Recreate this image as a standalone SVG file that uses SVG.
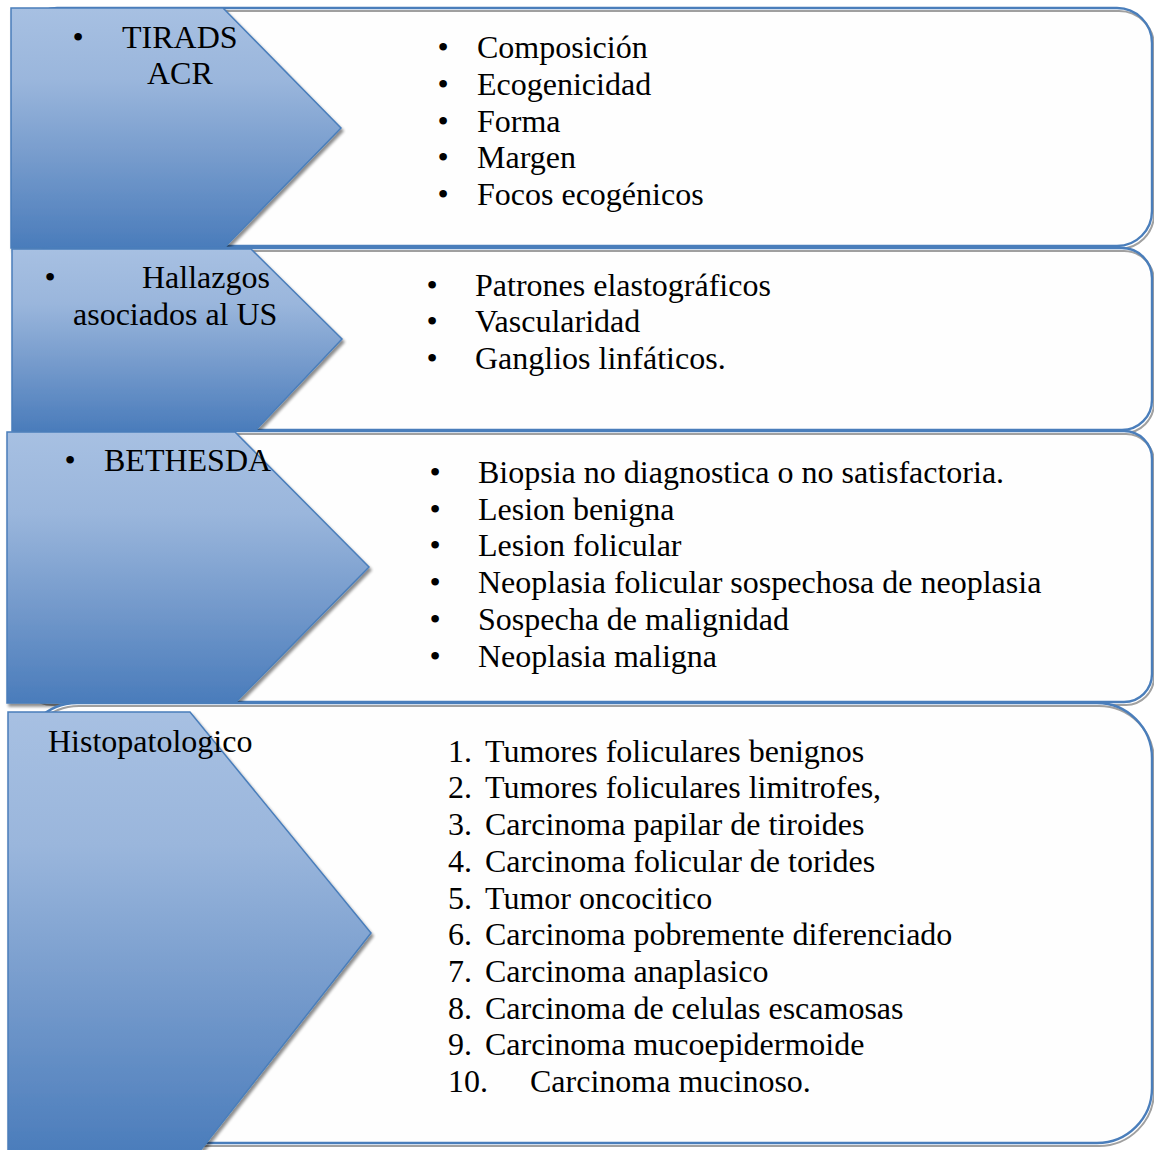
<svg xmlns="http://www.w3.org/2000/svg" width="1154" height="1150" viewBox="0 0 1154 1150">
  <defs>
    <linearGradient id="chevFill" x1="0" y1="0" x2="0" y2="1">
      <stop offset="0" stop-color="#a7c0e2"/>
      <stop offset="0.3" stop-color="#9ab6dc"/>
      <stop offset="0.65" stop-color="#7399cb"/>
      <stop offset="1" stop-color="#4a7cbb"/>
    </linearGradient>
    <filter id="shadow" x="-5%" y="-5%" width="115%" height="115%">
      <feGaussianBlur in="SourceAlpha" stdDeviation="1.5"/>
      <feOffset dx="2" dy="3" result="o"/>
      <feComponentTransfer><feFuncA type="linear" slope="0.45"/></feComponentTransfer>
      <feMerge><feMergeNode/><feMergeNode in="SourceGraphic"/></feMerge>
    </filter>
    <style>
      .box { fill: #fefefe; stroke: none; }
      .boxShadow { fill: none; stroke: #a0a0a0; stroke-width: 2; }
      .boxLine { fill: none; stroke: #4a7ebb; stroke-width: 2.4; }
      .chev { fill: url(#chevFill); stroke: #4a7ebb; stroke-width: 1.5; filter: url(#shadow); }
      text { font-family: "Liberation Serif", "Times New Roman", serif; font-size: 32px; fill: #000; }
      .b { text-anchor: middle; }
    </style>
  </defs>
  <rect width="1154" height="1150" fill="#ffffff"/>

  <g id="connectors"/>

  <!-- Row 1 -->
  <g id="box-tirads">
    <rect class="box" x="22" y="8" width="1130" height="238" rx="35" ry="35"/>
    <rect class="boxShadow" x="24" y="11" width="1130" height="238" rx="35" ry="35"/>
    <rect class="boxLine" x="22" y="8" width="1130" height="238" rx="35" ry="35"/>
    <text class="b" x="443" y="58.3">•</text><text x="477" y="58.3">Composición</text>
    <text class="b" x="443" y="95">•</text><text x="477" y="95">Ecogenicidad</text>
    <text class="b" x="443" y="131.7">•</text><text x="477" y="131.7">Forma</text>
    <text class="b" x="443" y="168.4">•</text><text x="477" y="168.4">Margen</text>
    <text class="b" x="443" y="205">•</text><text x="477" y="205">Focos ecogénicos</text>
  </g>
  <g id="chevron-tirads">
    <polygon class="chev" points="11,8 223,8 341,128 224,248 11,248"/>
    <text class="b" x="78" y="47.7">•</text><text x="122" y="47.7">TIRADS</text>
    <text x="147" y="83.5">ACR</text>
  </g>

  <!-- Row 2 -->
  <g id="box-hallazgos">
    <rect class="box" x="22" y="248" width="1130" height="182" rx="30" ry="30"/>
    <rect class="boxShadow" x="24" y="251" width="1130" height="182" rx="30" ry="30"/>
    <rect class="boxLine" x="22" y="248" width="1130" height="182" rx="30" ry="30"/>
    <text class="b" x="432" y="295.5">•</text><text x="475" y="295.5">Patrones elastográficos</text>
    <text class="b" x="432" y="332.2">•</text><text x="475" y="332.2">Vascularidad</text>
    <text class="b" x="432" y="368.9">•</text><text x="475" y="368.9">Ganglios linfáticos.</text>
  </g>
  <g id="chevron-hallazgos">
    <polygon class="chev" points="12,249 251,249 342,339 255,431 12,431"/>
    <text class="b" x="50" y="288.3">•</text><text x="142" y="288.3">Hallazgos</text>
    <text x="73" y="325">asociados al US</text>
  </g>

  <!-- Row 3 -->
  <g id="box-bethesda">
    <rect class="box" x="22" y="431" width="1130" height="271" rx="28" ry="28"/>
    <rect class="boxShadow" x="24" y="434" width="1130" height="271" rx="28" ry="28"/>
    <rect class="boxLine" x="22" y="431" width="1130" height="271" rx="28" ry="28"/>
    <text class="b" x="435" y="483">•</text><text x="478" y="483">Biopsia no diagnostica o no satisfactoria.</text>
    <text class="b" x="435" y="519.7">•</text><text x="478" y="519.7">Lesion benigna</text>
    <text class="b" x="435" y="556.4">•</text><text x="478" y="556.4">Lesion folicular</text>
    <text class="b" x="435" y="593.1">•</text><text x="478" y="593.1">Neoplasia folicular sospechosa de neoplasia</text>
    <text class="b" x="435" y="629.8">•</text><text x="478" y="629.8">Sospecha de malignidad</text>
    <text class="b" x="435" y="666.5">•</text><text x="478" y="666.5">Neoplasia maligna</text>
  </g>
  <g id="chevron-bethesda">
    <polygon class="chev" points="7,432 235,432 369,567 235,703 7,703"/>
    <text class="b" x="70" y="470.7">•</text><text x="104" y="470.7">BETHESDA</text>
  </g>

  <!-- Row 4 -->
  <g id="box-histopatologico">
    <rect class="box" x="22" y="703" width="1130" height="440" rx="55" ry="55"/>
    <rect class="boxShadow" x="24" y="706" width="1130" height="440" rx="55" ry="55"/>
    <rect class="boxLine" x="22" y="703" width="1130" height="440" rx="55" ry="55"/>
    <text x="448" y="761.7">1.</text><text x="485" y="761.7">Tumores foliculares benignos</text>
    <text x="448" y="798.4">2.</text><text x="485" y="798.4">Tumores foliculares limitrofes,</text>
    <text x="448" y="835.1">3.</text><text x="485" y="835.1">Carcinoma papilar de tiroides</text>
    <text x="448" y="871.8">4.</text><text x="485" y="871.8">Carcinoma folicular de torides</text>
    <text x="448" y="908.5">5.</text><text x="485" y="908.5">Tumor oncocitico</text>
    <text x="448" y="945.2">6.</text><text x="485" y="945.2">Carcinoma pobremente diferenciado</text>
    <text x="448" y="981.9">7.</text><text x="485" y="981.9">Carcinoma anaplasico</text>
    <text x="448" y="1018.6">8.</text><text x="485" y="1018.6">Carcinoma de celulas escamosas</text>
    <text x="448" y="1055.3">9.</text><text x="485" y="1055.3">Carcinoma mucoepidermoide</text>
    <text x="448" y="1092">10.</text><text x="530" y="1092">Carcinoma mucinoso.</text>
  </g>
  <g id="chevron-histopatologico">
    <polygon class="chev" points="8,712 190,712 371,933 196,1156 8,1156"/>
    <text x="48" y="752">Histopatologico</text>
  </g>
</svg>
